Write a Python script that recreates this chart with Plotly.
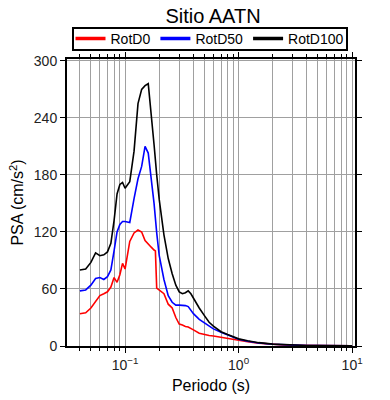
import plotly.graph_objects as go
import numpy as np

# Periods (s) and PSA values (cm/s^2)
period_d0 = [0.04, 0.045, 0.05, 0.055, 0.06, 0.065, 0.07, 0.075, 0.08, 0.085, 0.09, 0.095,
             0.10, 0.11, 0.12, 0.13, 0.14, 0.15, 0.16, 0.17, 0.18, 0.185, 0.19, 0.20, 0.22,
             0.24, 0.26, 0.28, 0.30, 0.32, 0.34, 0.36, 0.38, 0.40, 0.45, 0.50, 0.55, 0.60,
             0.70, 0.80, 0.90, 1.0, 1.2, 1.5, 2.0, 2.5, 3.0, 4.0, 5.0, 6.0, 7.5, 10.0]
rotd0 = [34, 35, 40, 47, 53, 55, 57, 62, 72, 67, 75, 87,
         81, 110, 119, 122, 120, 111, 107, 104, 101, 100, 61, 59, 55,
         44, 40, 30, 23, 22, 20.5, 20, 18, 17, 13.5, 12, 11, 10.5,
         9, 8, 7, 6, 4.5, 3, 1.7, 1.1, 0.8, 0.5, 0.35, 0.25, 0.18, 0.1]

period_d50 = [0.04, 0.045, 0.05, 0.055, 0.06, 0.065, 0.07, 0.075, 0.08, 0.085, 0.09, 0.095,
              0.10, 0.11, 0.12, 0.13, 0.14, 0.15, 0.16, 0.17, 0.18, 0.19, 0.20, 0.22,
              0.24, 0.26, 0.28, 0.30, 0.32, 0.34, 0.36, 0.38, 0.40, 0.45, 0.50, 0.55, 0.60,
              0.70, 0.80, 0.90, 1.0, 1.2, 1.5, 2.0, 2.5, 3.0, 4.0, 5.0, 6.0, 7.5, 10.0]
rotd50 = [58, 59, 64, 71, 72, 70, 73, 80, 100, 120, 128, 131,
          131, 130, 155, 176, 189, 210, 203, 178, 150, 119, 95, 70,
          53, 46, 43, 43, 43, 42.5, 41.5, 38, 34, 28, 24, 20.5, 18,
          14.5, 11.5, 9, 7, 5, 3.2, 1.8, 1.2, 0.9, 0.5, 0.35, 0.25, 0.18, 0.1]

period_d100 = [0.04, 0.045, 0.05, 0.055, 0.06, 0.065, 0.07, 0.075, 0.08, 0.085, 0.09, 0.095,
               0.10, 0.11, 0.12, 0.13, 0.14, 0.15, 0.16, 0.17, 0.18, 0.19, 0.20, 0.22,
               0.24, 0.26, 0.28, 0.30, 0.32, 0.34, 0.36, 0.38, 0.40, 0.45, 0.50, 0.55, 0.60,
               0.70, 0.80, 0.90, 1.0, 1.2, 1.5, 2.0, 2.5, 3.0, 4.0, 5.0, 6.0, 7.5, 10.0]
rotd100 = [80, 81, 88, 98, 95, 96, 99, 108, 132, 160, 170, 172,
           166, 173, 205, 255, 270, 274, 276, 245, 212, 180, 154, 117,
           92, 76, 64, 57, 55, 56, 58, 55, 50, 40, 32, 25, 21,
           15, 12, 9.5, 7.5, 5.5, 3.5, 2, 1.4, 1, 0.6, 0.4, 0.3, 0.2, 0.1]

names = ["RotD0", "RotD50", "RotD100"]
colors = ["#ff0000", "#0000ff", "#000000"]

x_ticks = [0.1, 1, 10]
x_ticktext = ["10<sup>\u22121</sup>", "10<sup>0</sup>", "10<sup>1</sup>"]
y_ticks = [0, 60, 120, 180, 240, 300]

minor_vals = [m * 10.0 ** e for e in (-2, -1, 0, 1) for m in range(2, 10)]

fig = go.Figure()
for per, vals, nm, col in zip([period_d0, period_d50, period_d100],
                              [rotd0, rotd50, rotd100], names, colors):
    fig.add_trace(go.Scatter(x=per, y=vals, mode="lines", name=nm, showlegend=False,
                             legendgroup=nm, line=dict(color=col, width=1.6)))
# legend entries (thicker sample lines, as in the reference)
for nm, col in zip(names, colors):
    fig.add_trace(go.Scatter(x=[None], y=[None], mode="lines", name=nm,
                             legendgroup=nm, line=dict(color=col, width=3.5)))

W, H = 390, 400
ML, MR, MT, MB = 67, 35, 59, 54
pw, ph = W - ML - MR, H - MT - MB

font = "Liberation Sans, Arial, Helvetica, sans-serif"
fig.update_layout(
    width=W, height=H,
    margin=dict(l=ML, r=MR, t=MT, b=MB, autoexpand=False),
    paper_bgcolor="white", plot_bgcolor="white",
    font=dict(family=font, color="#111111", size=13),
    title=dict(text="Sitio AATN", x=213 / W, xanchor="center",
               y=1 - 16 / H, yanchor="middle", yref="container",
               font=dict(size=20, color="#000000")),
    legend=dict(orientation="h", x=(210 - ML) / pw, xanchor="center", xref="paper",
                y=1 - 39 / H, yanchor="middle", yref="container",
                borderwidth=0, bgcolor="rgba(0,0,0,0)",
                font=dict(size=14, color="#000000"), tracegroupgap=0),
    showlegend=True,
    shapes=[dict(type="rect", xref="paper", yref="paper",
                 x0=(73 - ML) / pw, x1=(347 - ML) / pw,
                 y0=(H - MB - 50) / ph, y1=(H - MB - 28) / ph,
                 line=dict(color="#000000", width=2), fillcolor="rgba(0,0,0,0)",
                 layer="above")],
)
fig.update_xaxes(
    type="log", range=[np.log10(0.0308), np.log10(10.6)],
    tickmode="array", tickvals=x_ticks, ticktext=x_ticktext,
    ticks="outside", ticklen=5, tickcolor="#000000", tickwidth=1,
    showline=True, linecolor="#000000", linewidth=2, mirror="ticks",
    showgrid=True, gridcolor="#a0a0a0", gridwidth=1,
    minor=dict(tickmode="array", tickvals=minor_vals, ticks="outside", ticklen=3,
               tickcolor="#000000", showgrid=True, gridcolor="#a0a0a0", gridwidth=1),
    zeroline=False, automargin=False,
    title=dict(text="Periodo (s)", font=dict(size=16, color="#000000"), standoff=8),
    tickfont=dict(size=14, color="#222222"),
)
fig.update_yaxes(
    range=[0, 302], tickmode="array", tickvals=y_ticks,
    ticks="outside", ticklen=5, tickcolor="#000000", tickwidth=1,
    showline=True, linecolor="#000000", linewidth=2, mirror="ticks",
    showgrid=True, gridcolor="#a0a0a0", gridwidth=1, zeroline=False, automargin=False,
    title=dict(text="PSA (cm/s<sup>2</sup>)", font=dict(size=16, color="#000000"), standoff=6),
    tickfont=dict(size=14, color="#222222"),
)

fig.write_html("out.html", config={"displayModeBar": False},
               post_script="document.body.style.margin='0';")
